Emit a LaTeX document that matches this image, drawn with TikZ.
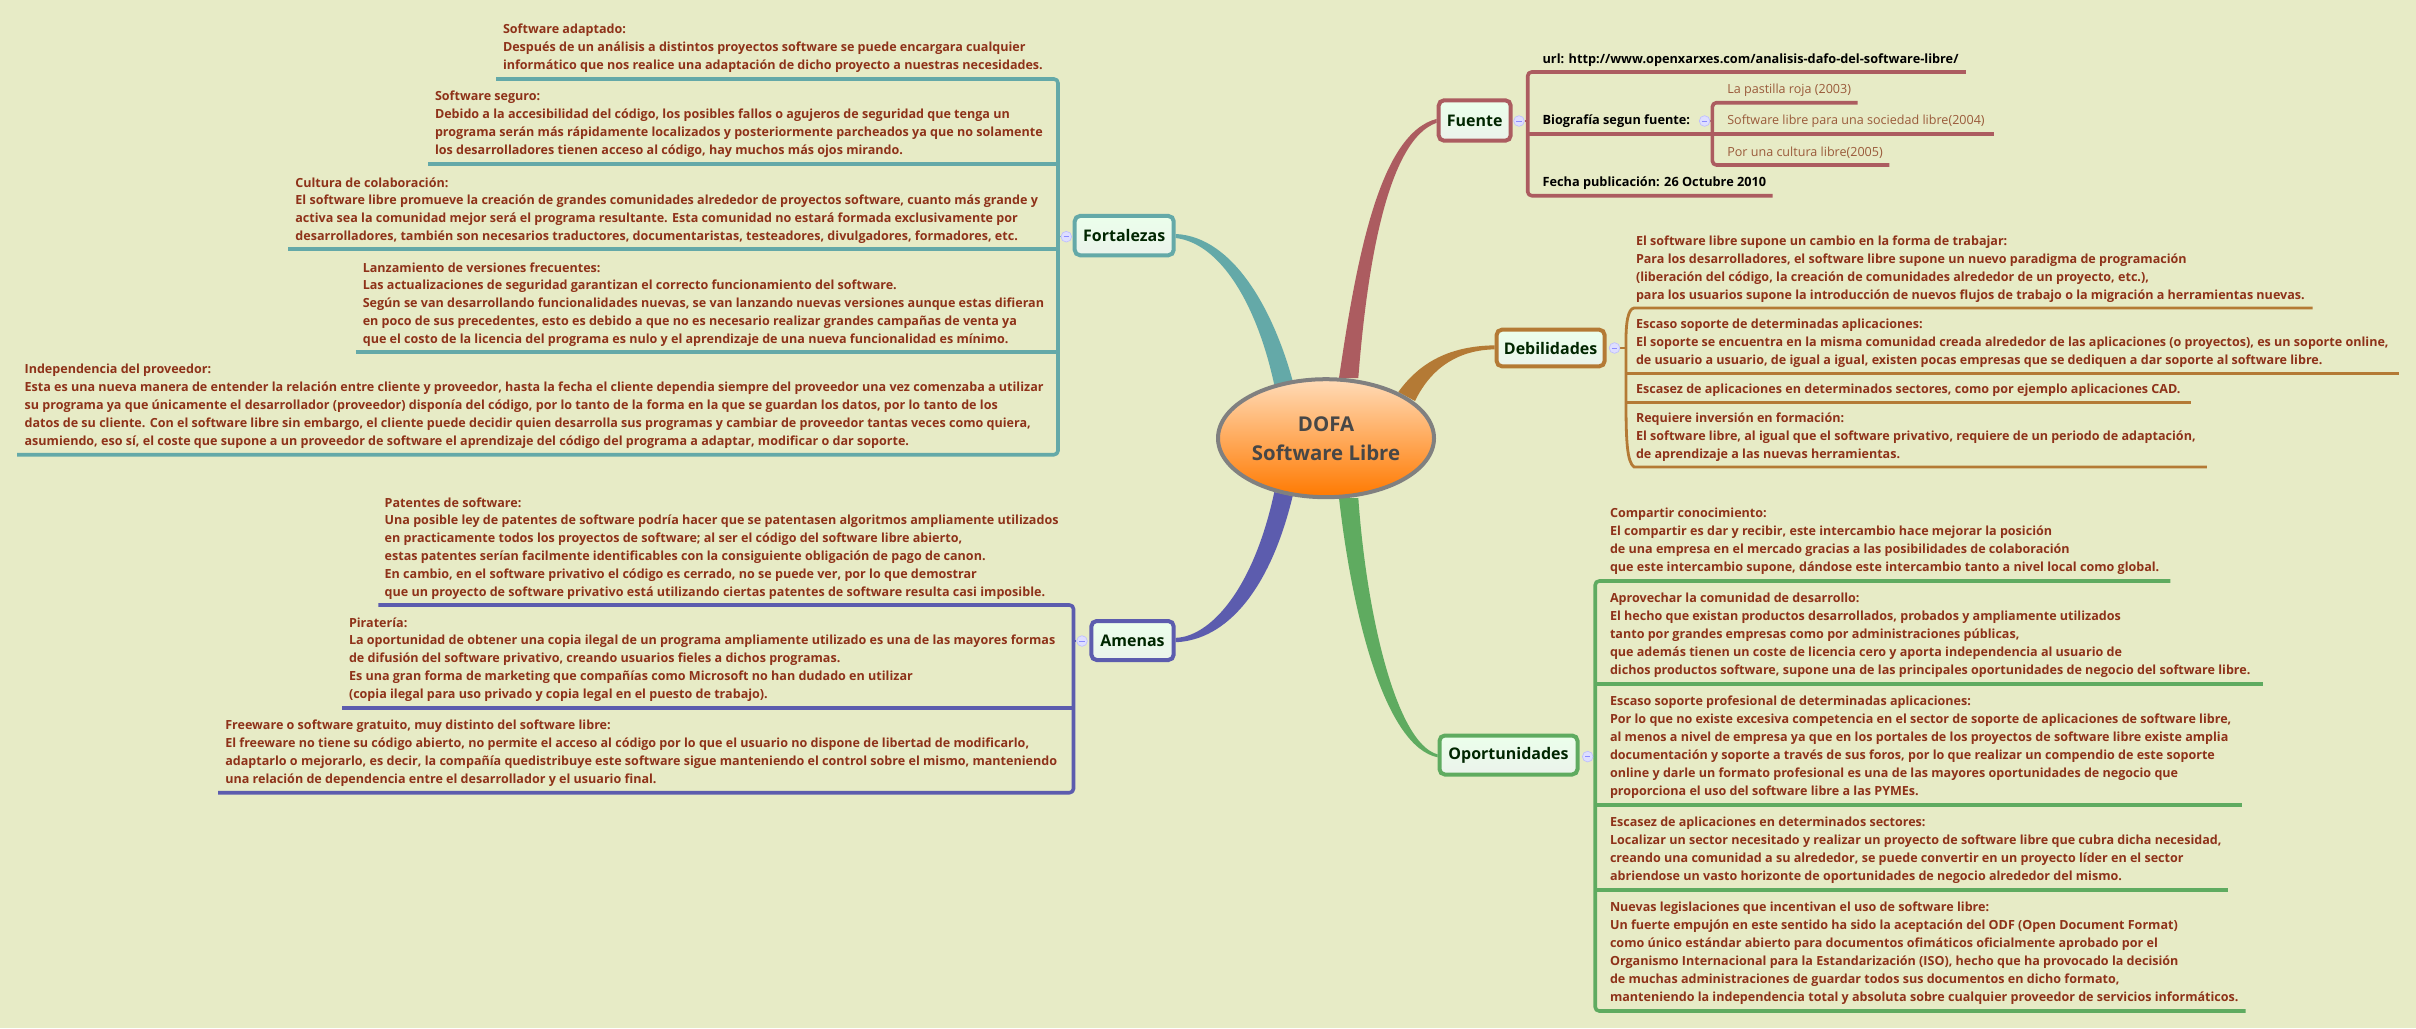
\documentclass[tikz,border=0pt]{standalone}
\usepackage{fontspec}
\setmainfont{Open Sans}
\usetikzlibrary{backgrounds,calc,shapes.geometric}
\definecolor{bgc}{HTML}{E7EBC6}
\definecolor{txr}{HTML}{8E3219}
\definecolor{txl}{HTML}{9A5A3A}
\definecolor{cT}{HTML}{64A9A8}
\definecolor{cF}{HTML}{AC5C60}
\definecolor{cD}{HTML}{B47A35}
\definecolor{cA}{HTML}{5C5CAE}
\definecolor{cO}{HTML}{5FAB60}
\newcommand\cpt[3]{\coordinate (#1) at (#2,#3);}
\tikzset{
  txt/.style={anchor=north west,inner sep=0pt,outer sep=0pt,align=left,yshift=5.5pt,text=txr,
    font=\fontsize{9.42}{13.5}\selectfont\bfseries},
  blk/.style={txt,text=black,font=\fontsize{9.55}{13.5}\selectfont\bfseries},
  lgt/.style={txt,text=txl,font=\fontsize{9.42}{13.5}\selectfont},
  topic/.style={draw=#1,line width=3pt,rounded corners=4pt,inner sep=0pt,
    top color=white!92!green,bottom color=green!40!black!8!white,
    text=black!85!green,font=\fontsize{12}{14}\selectfont\bfseries},
  icon/.style={circle,draw=blue!25!white,fill=blue!13!white,line width=.5pt,minimum size=8pt,inner sep=0pt,
    path picture={\draw[blue!45!white,line width=.5pt] ([xshift=-2pt]path picture bounding box.center) -- ([xshift=2pt]path picture bounding box.center);}},
  rl/.style={draw=#1,line width=2.7pt,line cap=butt},
  bus/.style={draw=#1,line width=2.7pt,rounded corners=3pt,line join=round},
  stub/.style={draw=#1,line width=1pt},
}
\newcommand\rs{\rule{0pt}{9pt}}
\begin{document}
\begin{tikzpicture}[x=0.75pt,y=-0.75pt]
\useasboundingbox (0,0) rectangle (2416,1028);
% centre
\node[ellipse,draw=black!50,line width=3pt,top color=orange!20!white!90!orange,bottom color=orange!95!red,
  minimum width=162pt,minimum height=88.5pt,inner sep=0pt,align=center,text=black!72,
  font=\fontsize{15.3}{21.75}\selectfont\bfseries] (root) at (1326,438.2) {DOFA\\Software Libre};
% topics
\node[topic=cT,minimum width=74.25pt,minimum height=29.5pt] (fort) at (1124.2,235.6) {Fortalezas};
\node[topic=cA,minimum width=61.75pt,minimum height=29.25pt] (amen) at (1132.5,640.5) {Amenas};
\node[topic=cF,minimum width=54pt,minimum height=30.3pt] (fuen) at (1474.7,120.5) {Fuente};
\node[topic=cD,minimum width=81pt,minimum height=27.5pt] (debi) at (1550.6,348) {Debilidades};
\node[topic=cO,minimum width=103.5pt,minimum height=29.25pt] (opor) at (1508.5,755) {Oportunidades};
% icons
\node[icon] (ifort) at (1066.3,236.7) {};
\node[icon] (iamen) at (1082,641) {};
\node[icon] (ifuen) at (1519,121) {};
\node[icon] (ibio) at (1704.6,121) {};
\node[icon] (idebi) at (1614.5,348) {};
\node[icon] (iopor) at (1587.7,756.6) {};
% Fortalezas texts
\node[txt] (t1) at (503,29.3) {\rs Software adaptado:\\Después de un análisis a distintos proyectos software se puede encargara cualquier\\informático que nos realice una adaptación de dicho proyecto a nuestras necesidades.};
\node[txt] (t2) at (435,96.3) {\rs Software seguro:\\Debido a la accesibilidad del código, los posibles fallos o agujeros de seguridad que tenga un\\programa serán más rápidamente localizados y posteriormente parcheados ya que no solamente\\los desarrolladores tienen acceso al código, hay muchos más ojos mirando.};
\node[txt] (t3) at (295.4,182.7) {\rs Cultura de colaboración:\\[-1pt]El software libre promueve la creación de grandes comunidades alrededor de proyectos software, cuanto más grande y\\activa sea la comunidad mejor será el programa resultante. Esta comunidad no estará formada exclusivamente por\\desarrolladores, también son necesarios traductores, documentaristas, testeadores, divulgadores, formadores, etc.};
\node[txt] (t4) at (362.8,267.7) {\rs Lanzamiento de versiones frecuentes:\\[-1pt]Las actualizaciones de seguridad garantizan el correcto funcionamiento del software.\\Según se van desarrollando funcionalidades nuevas, se van lanzando nuevas versiones aunque estas difieran\\en poco de sus precedentes, esto es debido a que no es necesario realizar grandes campañas de venta ya\\que el costo de la licencia del programa es nulo y el aprendizaje de una nueva funcionalidad es mínimo.};
\node[txt] (t5) at (24.6,369.3) {\rs Independencia del proveedor:\\Esta es una nueva manera de entender la relación entre cliente y proveedor, hasta la fecha el cliente dependia siempre del proveedor una vez comenzaba a utilizar\\su programa ya que únicamente el desarrollador (proveedor) disponía del código, por lo tanto de la forma en la que se guardan los datos, por lo tanto de los\\datos de su cliente. Con el software libre sin embargo, el cliente puede decidir quien desarrolla sus programas y cambiar de proveedor tantas veces como quiera,\\asumiendo, eso sí, el coste que supone a un proveedor de software el aprendizaje del código del programa a adaptar, modificar o dar soporte.};
% Amenas texts
\node[txt] (a1) at (384.7,502.7) {\rs Patentes de software:\\[-1pt]Una posible ley de patentes de software podría hacer que se patentasen algoritmos ampliamente utilizados\\en practicamente todos los proyectos de software; al ser el código del software libre abierto,\\estas patentes serían facilmente identificables con la consiguiente obligación de pago de canon.\\En cambio, en el software privativo el código es cerrado, no se puede ver, por lo que demostrar\\que un proyecto de software privativo está utilizando ciertas patentes de software resulta casi imposible.};
\node[txt] (a2) at (349,623.3) {\rs Piratería:\\[-1pt]La oportunidad de obtener una copia ilegal de un programa ampliamente utilizado es una de las mayores formas\\de difusión del software privativo, creando usuarios fieles a dichos programas.\\Es una gran forma de marketing que compañías como Microsoft no han dudado en utilizar\\(copia ilegal para uso privado y copia legal en el puesto de trabajo).};
\node[txt] (a3) at (225.3,725.3) {\rs Freeware o software gratuito, muy distinto del software libre:\\El freeware no tiene su código abierto, no permite el acceso al código por lo que el usuario no dispone de libertad de modificarlo,\\adaptarlo o mejorarlo, es decir, la compañía quedistribuye este software sigue manteniendo el control sobre el mismo, manteniendo\\una relación de dependencia entre el desarrollador y el usuario final.};
% Fuente texts
\node[blk] (f1) at (1542.6,58.7) {\rs url: http://www.openxarxes.com/analisis-dafo-del-software-libre/};
\node[blk] (f2) at (1542.6,120.3) {\rs Biografía segun fuente:};
\node[blk] (f3) at (1542.6,182.3) {\rs Fecha publicación: 26 Octubre 2010};
\node[lgt] (b1) at (1727.3,89.3) {\rs La pastilla roja (2003)};
\node[lgt] (b2) at (1727.3,120.3) {\rs Software libre para una sociedad libre(2004)};
\node[lgt] (b3) at (1727.3,151.7) {\rs Por una cultura libre(2005)};
% Debilidades texts
\node[txt] (d1) at (1636,241.3) {\rs El software libre supone un cambio en la forma de trabajar:\\Para los desarrolladores, el software libre supone un nuevo paradigma de programación\\(liberación del código, la creación de comunidades alrededor de un proyecto, etc.),\\para los usuarios supone la introducción de nuevos flujos de trabajo o la migración a herramientas nuevas.};
\node[txt] (d2) at (1636,324.3) {\rs Escaso soporte de determinadas aplicaciones:\\El soporte se encuentra en la misma comunidad creada alrededor de las aplicaciones (o proyectos), es un soporte online,\\de usuario a usuario, de igual a igual, existen pocas empresas que se dediquen a dar soporte al software libre.};
\node[txt] (d3) at (1636,389.3) {\rs Escasez de aplicaciones en determinados sectores, como por ejemplo aplicaciones CAD.};
\node[txt] (d4) at (1636,418.3) {\rs Requiere inversión en formación:\\El software libre, al igual que el software privativo, requiere de un periodo de adaptación,\\de aprendizaje a las nuevas herramientas.};
% Oportunidades texts
\node[txt] (o1) at (1610,513.3) {\rs Compartir conocimiento:\\El compartir es dar y recibir, este intercambio hace mejorar la posición\\de una empresa en el mercado gracias a las posibilidades de colaboración\\que este intercambio supone, dándose este intercambio tanto a nivel local como global.};
\node[txt] (o2) at (1610,598.1) {\rs Aprovechar la comunidad de desarrollo:\\El hecho que existan productos desarrollados, probados y ampliamente utilizados\\tanto por grandes empresas como por administraciones públicas,\\que además tienen un coste de licencia cero y aporta independencia al usuario de\\dichos productos software, supone una de las principales oportunidades de negocio del software libre.};
\node[txt] (o3) at (1610,701) {\rs Escaso soporte profesional de determinadas aplicaciones:\\Por lo que no existe excesiva competencia en el sector de soporte de aplicaciones de software libre,\\al menos a nivel de empresa ya que en los portales de los proyectos de software libre existe amplia\\documentación y soporte a través de sus foros, por lo que realizar un compendio de este soporte\\online y darle un formato profesional es una de las mayores oportunidades de negocio que\\proporciona el uso del software libre a las PYMEs.};
\node[txt] (o4) at (1610,822.2) {\rs Escasez de aplicaciones en determinados sectores:\\Localizar un sector necesitado y realizar un proyecto de software libre que cubra dicha necesidad,\\creando una comunidad a su alrededor, se puede convertir en un proyecto líder en el sector\\abriendose un vasto horizonte de oportunidades de negocio alrededor del mismo.};
\node[txt] (o5) at (1610,907.3) {\rs Nuevas legislaciones que incentivan el uso de software libre:\\Un fuerte empujón en este sentido ha sido la aceptación del ODF (Open Document Format)\\como único estándar abierto para documentos ofimáticos oficialmente aprobado por el\\Organismo Internacional para la Estandarización (ISO), hecho que ha provocado la decisión\\de muchas administraciones de guardar todos sus documentos en dicho formato,\\manteniendo la independencia total y absoluta sobre cualquier proveedor de servicios informáticos.};
% rule ends
\cpt{T1l}{496}{79}\cpt{T1r}{1058}{79}
\cpt{T2l}{428}{163.7}\cpt{T2r}{1058}{163.7}
\cpt{T3l}{288}{248.7}\cpt{T3r}{1058}{248.7}
\cpt{T4l}{355.8}{351.7}\cpt{T4r}{1058}{351.7}
\cpt{T5l}{17}{454.7}\cpt{T5r}{1058}{454.7}
\cpt{Tm}{1058}{236.7}
\cpt{A1l}{378.3}{605}\cpt{A1r}{1073.5}{605}
\cpt{A2l}{342}{707.7}\cpt{A2r}{1073.5}{707.7}
\cpt{A3l}{218.2}{792.7}\cpt{A3r}{1073.5}{792.7}
\cpt{Am}{1073.5}{641}
\cpt{F1l}{1527.7}{72}\cpt{F1r}{1965.8}{72}
\cpt{F2l}{1527.7}{134}\cpt{F2r}{1994}{134}
\cpt{F3l}{1527.7}{195.7}\cpt{F3r}{1772.6}{195.7}
\cpt{Fm}{1527.7}{121}
\cpt{B1l}{1712.4}{102.7}\cpt{B1r}{1857.5}{102.7}
\cpt{B2l}{1712.4}{134}
\cpt{B3l}{1712.4}{165}\cpt{B3r}{1889.3}{165}
\cpt{Bm}{1712.4}{121}
\cpt{D1l}{1634}{308}\cpt{D1r}{2312.5}{308}
\cpt{D2l}{1626}{373.3}\cpt{D2r}{2398.7}{373.3}
\cpt{D3l}{1626}{402.3}\cpt{D3r}{2190.7}{402.3}
\cpt{D4l}{1634}{467}\cpt{D4r}{2206.9}{467}
\cpt{Dm}{1626}{348}
\cpt{O1l}{1595.2}{581}\cpt{O1r}{2170.4}{581}
\cpt{O2l}{1595.2}{683.9}\cpt{O2r}{2263.4}{683.9}
\cpt{O3l}{1595.2}{804.7}\cpt{O3r}{2242}{804.7}
\cpt{O4l}{1595.2}{889.8}\cpt{O4r}{2228.4}{889.8}
\cpt{O5l}{1595.2}{1011}\cpt{O5r}{2245.6}{1011}
\cpt{Om}{1595.2}{756.6}
\begin{scope}[on background layer]
\fill[bgc] (0,0) rectangle (2416,1028);
% tapered branches
\fill[cF] (1339,378) .. controls (1356.7,256.7) and (1380,133.3) .. ([yshift=1.2pt]fuen.west) -- ([yshift=-1.7pt]fuen.west) .. controls (1386.7,140) and (1366.7,270) .. (1358.3,378) -- cycle;
\fill[cT] (1292.7,381) .. controls (1273.3,310) and (1233.3,236.7) .. ([yshift=1.2pt]fort.east) -- ([yshift=-1.8pt]fort.east) .. controls (1220,243.3) and (1256.7,303.3) .. (1274.3,385) -- cycle;
\fill[cD] (1398.3,392) .. controls (1420,362) and (1450,346) .. ([yshift=2pt]debi.west) -- ([yshift=-1pt]debi.west) .. controls (1460,350) and (1432,366) .. (1415,401) -- cycle;
\fill[cA] ([yshift=2pt]amen.east) .. controls (1210,636.7) and (1253.3,590) .. (1274.3,492) -- (1292.7,496) .. controls (1270,590) and (1226.7,640) .. ([yshift=-1.3pt]amen.east) -- cycle;
\fill[cO] (1339,498) .. controls (1353.3,623.3) and (1386.7,746.7) .. ([yshift=-1.7pt]opor.west) -- ([yshift=.5pt]opor.west) .. controls (1396.7,743.3) and (1366.7,616.7) .. (1358.3,498) -- cycle;
% stubs
\draw[stub=cT] (Tm) -- (ifort);
\draw[stub=cA] (Am) -- (iamen);
\draw[stub=cF] (Fm) -- (ifuen);
\draw[stub=cF] (Bm) -- (ibio);
\draw[stub=cD] (Dm) -- (idebi);
\draw[stub=cO] (Om) -- (iopor);
% buses and rules
\draw[bus=cT] (T1l) -- (T1r) -- (T5r) -- (T5l);
\draw[rl=cT] (T2l) -- (T2r);
\draw[rl=cT] (T3l) -- (T3r);
\draw[rl=cT] (T4l) -- (T4r);
\draw[bus=cA] (A1l) -- (A1r) -- (A3r) -- (A3l);
\draw[rl=cA] (A2l) -- (A2r);
\draw[bus=cF] (F1r) -- (F1l) -- (F3l) -- (F3r);
\draw[rl=cF] (F2l) -- (F2r);
\draw[bus=cF] (B1r) -- (B1l) -- (B3l) -- (B3r);
\draw[draw=cD,line width=2.1pt] (D1r) -- (D1l) .. controls (1628,309) and (1625.5,322) .. (Dm) -- (D3l) .. controls (1626,440) and (1627,462) .. (D4l) -- (D4r);
\draw[draw=cD,line width=2.1pt] (D2l) -- (D2r);
\draw[draw=cD,line width=2.1pt] (D3l) -- (D3r);
\draw[bus=cO] (O1r) -- (O1l) -- (O5l) -- (O5r);
\draw[rl=cO] (O2l) -- (O2r);
\draw[rl=cO] (O3l) -- (O3r);
\draw[rl=cO] (O4l) -- (O4r);
\end{scope}
\end{tikzpicture}
\end{document}
